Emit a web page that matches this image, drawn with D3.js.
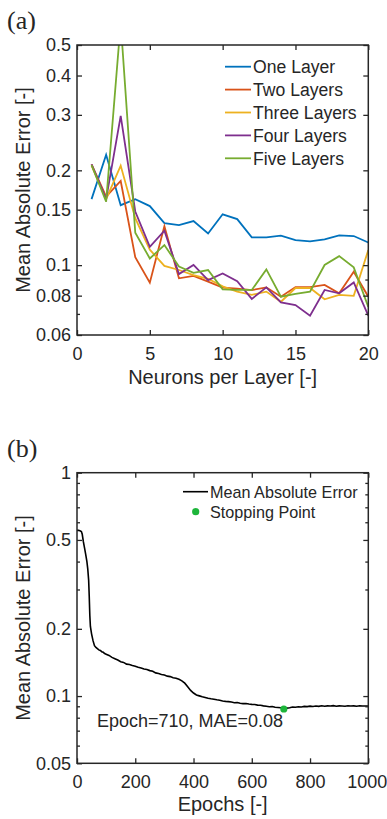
<!DOCTYPE html>
<html>
<head>
<meta charset="utf-8">
<script src="https://cdn.jsdelivr.net/npm/d3@7"></script>
<style>
  html, body { margin: 0; padding: 0; background: #fff; }
  svg { display: block; }
  text { font-family: "Liberation Sans", Arial, Helvetica, sans-serif; fill: #262626; }
</style>
</head>
<body>
<svg id="chart" width="387" height="819"></svg>
<script>
// ---------- Data: panel (a) ----------
const neurons = [1,2,3,4,5,6,7,8,9,10,11,12,13,14,15,16,17,18,19,20];
const seriesNames = ["One Layer","Two Layers","Three Layers","Four Layers","Five Layers"];
const seriesColors = ["#0072BD","#D95319","#EDB120","#7E2F8E","#77AC30"];
const oneLayer   = [0.162,0.224,0.155,0.162,0.154,0.136,0.134,0.138,0.126,0.145,0.140,0.1225,0.1225,0.124,0.120,0.119,0.1207,0.1243,0.1237,0.118];
const twoLayers  = [0.209,0.165,0.185,0.106,0.088,0.133,0.0908,0.0924,0.0886,0.0848,0.0842,0.0833,0.085,0.0794,0.0852,0.0852,0.0865,0.0814,0.0953,0.0794];
const threeLayers= [0.207,0.162,0.207,0.141,0.112,0.0994,0.0965,0.093,0.0905,0.0856,0.0824,0.0805,0.0824,0.0765,0.0846,0.0846,0.0779,0.0805,0.0799,0.1117];
const fourLayers = [0.209,0.162,0.298,0.148,0.1144,0.1286,0.0937,0.1001,0.0896,0.0941,0.0889,0.0781,0.085,0.0762,0.0747,0.0691,0.0834,0.0814,0.0881,0.0691];
const fiveLayers = [0.208,0.159,0.59,0.1268,0.105,0.1158,0.099,0.0945,0.0965,0.0838,0.0834,0.0834,0.0969,0.0794,0.081,0.0824,0.1001,0.1068,0.0984,0.0737];
const seriesValues = [oneLayer, twoLayers, threeLayers, fourLayers, fiveLayers];
const aXTicks = [0,5,10,15,20];
const aYTicks = [0.06,0.08,0.1,0.15,0.2,0.3,0.4,0.5];
const aYTickLabels = ["0.06","0.08","0.1","0.15","0.2","0.3","0.4","0.5"];
const aYMinor = [0.07,0.09];

// ---------- Data: panel (b) ----------
const epochs = [0,5,10,15,18,22,26,30,34,37,40,42,44,46,50,55,60,65,70,75,80,85,90,95,100,110,120,130,140,150,160,170,180,190,200,210,220,230,240,250,260,270,280,290,300,310,320,330,340,350,360,370,380,390,400,410,420,430,440,450,460,470,480,490,500,510,520,530,540,550,560,570,580,590,600,610,620,630,640,650,660,670,680,690,700,710,720,730,740,750,760,770,780,790,800,810,820,830,840,850,860,870,880,890,900,910,920,930,940,950,960,970,980,990,1000];
const mae = [0.552,0.552,0.550,0.545,0.53,0.49,0.46,0.43,0.40,0.37,0.33,0.28,0.23,0.205,0.19,0.177,0.168,0.165,0.163,0.161,0.160,0.158,0.157,0.155,0.154,0.152,0.149,0.147,0.145,0.1425,0.1415,0.139,0.1385,0.137,0.136,0.1345,0.1335,0.1322,0.1315,0.130,0.1292,0.127,0.1262,0.125,0.1242,0.1228,0.1222,0.1208,0.1202,0.1188,0.117,0.1142,0.110,0.106,0.1032,0.1012,0.1002,0.0992,0.0985,0.0978,0.0972,0.0968,0.0962,0.0958,0.0951,0.0947,0.0944,0.094,0.0934,0.0936,0.0929,0.0925,0.0926,0.0921,0.0918,0.0916,0.0911,0.0909,0.0904,0.0901,0.0896,0.0898,0.0891,0.0889,0.0886,0.0876,0.0883,0.0887,0.0893,0.0891,0.0896,0.0894,0.0899,0.0897,0.0901,0.0898,0.0902,0.0899,0.0905,0.0901,0.0904,0.0902,0.0906,0.0901,0.0904,0.0903,0.0901,0.0905,0.0902,0.0904,0.0901,0.0905,0.0902,0.0903,0.0902];
const stopEpoch = [710];
const stopMAE = [0.0875];
const bXTicks = [0,200,400,600,800,1000];
const bYTicks = [0.05,0.1,0.2,0.5,1];
const bYTickLabels = ["0.05","0.1","0.2","0.5","1"];
const bYMinor = [0.06,0.07,0.08,0.09,0.3,0.4,0.6,0.7,0.8,0.9];

const svg = d3.select("#chart");
const AX = "#262626";

function panel(opts) {
  const {left, right, top, bottom, x, y, xTicks, yTicks, yLabels, yMinor, xLabel, yLabel, xLabelY} = opts;
  const g = svg.append("g");
  const w = right - left, h = bottom - top;

  // ticks (inward) on all four sides
  const majLen = 5, minLen = 3;
  const bottomAxis = d3.axisBottom(x).tickValues(xTicks).tickSizeInner(-majLen).tickSizeOuter(0).tickPadding(12).tickFormat(d3.format("d"));
  const topAxis = d3.axisTop(x).tickValues(xTicks).tickSizeInner(-majLen).tickSizeOuter(0).tickFormat("");
  const leftAxis = d3.axisLeft(y).tickValues(yTicks).tickSizeInner(-majLen).tickSizeOuter(0).tickPadding(6)
      .tickFormat((d,i) => yLabels[i]);
  const rightAxis = d3.axisRight(y).tickValues(yTicks).tickSizeInner(-majLen).tickSizeOuter(0).tickFormat("");
  const leftMinor = d3.axisLeft(y).tickValues(yMinor).tickSizeInner(-minLen).tickSizeOuter(0).tickFormat("");
  const rightMinor = d3.axisRight(y).tickValues(yMinor).tickSizeInner(-minLen).tickSizeOuter(0).tickFormat("");

  const axes = [
    [bottomAxis, `translate(0,${bottom})`, "bottom"],
    [topAxis, `translate(0,${top})`, "top"],
    [leftAxis, `translate(${left},0)`, "left"],
    [rightAxis, `translate(${right},0)`, "right"],
    [leftMinor, `translate(${left},0)`, "lm"],
    [rightMinor, `translate(${right},0)`, "rm"]
  ];
  axes.forEach(([ax, tr, kind]) => {
    const a = g.append("g").attr("transform", tr).call(ax);
    a.select(".domain").remove();
    a.selectAll("line").attr("stroke", AX).attr("stroke-width", 1.3);
    a.selectAll("text").attr("font-size", 18).attr("fill", AX)
      .attr("font-family", '"Liberation Sans", Arial, sans-serif');
    if (kind === "bottom") {
      // keep the widest last label inside the picture
      a.selectAll("text").filter(d => String(d).length >= 4).attr("dx", -1.5);
    }
  });

  // frame
  g.append("rect").attr("x", left).attr("y", top).attr("width", w).attr("height", h)
    .attr("fill", "none").attr("stroke", AX).attr("stroke-width", 1.5);

  // labels
  g.append("text").attr("x", (left + right) / 2).attr("y", xLabelY)
    .attr("text-anchor", "middle").attr("font-size", 20).text(xLabel);
  g.append("text").attr("transform", `translate(30,${(top + bottom) / 2}) rotate(-90)`)
    .attr("text-anchor", "middle").attr("font-size", 20).text(yLabel);
  return g;
}

// ---------- Panel (a) ----------
const aL = 77, aR = 368.3, aT = 45, aB = 335;
const xa = d3.scaleLinear().domain([0,20]).range([aL, aR]);
const ya = d3.scaleLog().domain([0.06,0.5]).range([aB, aT]);

svg.append("text").attr("x", 7).attr("y", 29).attr("font-size", 26)
  .style("font-family", '"Liberation Serif", "Times New Roman", serif').attr("fill", "#000").text("(a)");

svg.append("clipPath").attr("id", "clipA").append("rect")
  .attr("x", aL).attr("y", aT).attr("width", aR - aL).attr("height", aB - aT);

const lineA = d3.line().x((d,i) => xa(neurons[i])).y(d => ya(d));
const gA = svg.append("g").attr("clip-path", "url(#clipA)");
seriesValues.forEach((vals, k) => {
  gA.append("path").datum(vals).attr("d", lineA)
    .attr("fill", "none").attr("stroke", seriesColors[k]).attr("stroke-width", 1.8)
    .attr("stroke-linejoin", "miter");
});

panel({left: aL, right: aR, top: aT, bottom: aB, x: xa, y: ya, xTicks: aXTicks, yTicks: aYTicks,
  yLabels: aYTickLabels, yMinor: aYMinor, xLabel: "Neurons per Layer [-]", yLabel: "Mean Absolute Error [-]", xLabelY: 384});

// legend (a)
const legA = svg.append("g");
seriesNames.forEach((name, k) => {
  const ly = 66.7 + k * 22.9;
  legA.append("line").attr("x1", 225).attr("x2", 251).attr("y1", ly).attr("y2", ly)
    .attr("stroke", seriesColors[k]).attr("stroke-width", 1.8);
  legA.append("text").attr("x", 253).attr("y", ly + 6.2).attr("font-size", 17.6).attr("fill", "#000").text(name);
});

// ---------- Panel (b) ----------
const bL = 77, bR = 368.3, bT = 472.7, bB = 763.3;
const xb = d3.scaleLinear().domain([0,1000]).range([bL, bR]);
const yb = d3.scaleLog().domain([0.05,1]).range([bB, bT]);

svg.append("text").attr("x", 7).attr("y", 457).attr("font-size", 26)
  .style("font-family", '"Liberation Serif", "Times New Roman", serif').attr("fill", "#000").text("(b)");

const lineB = d3.line().x((d,i) => xb(epochs[i])).y(d => yb(d));
svg.append("path").datum(mae).attr("d", lineB)
  .attr("fill", "none").attr("stroke", "#000").attr("stroke-width", 1.6);

svg.selectAll("circle.stop").data(stopEpoch).enter().append("circle").attr("class", "stop")
  .attr("cx", d => xb(d)).attr("cy", (d,i) => yb(stopMAE[i])).attr("r", 3.6).attr("fill", "#1db53a");

panel({left: bL, right: bR, top: bT, bottom: bB, x: xb, y: yb, xTicks: bXTicks, yTicks: bYTicks,
  yLabels: bYTickLabels, yMinor: bYMinor, xLabel: "Epochs [-]", yLabel: "Mean Absolute Error [-]", xLabelY: 811});

svg.append("text").attr("x", 97).attr("y", 727).attr("font-size", 18).attr("fill", "#000")
  .text(`Epoch=${stopEpoch[0]}, MAE=0.08`);

// legend (b)
const legB = svg.append("g");
legB.append("line").attr("x1", 183).attr("x2", 208).attr("y1", 491.7).attr("y2", 491.7)
  .attr("stroke", "#000").attr("stroke-width", 1.6);
legB.append("text").attr("x", 210).attr("y", 497.5).attr("font-size", 16.2).attr("fill", "#000").text("Mean Absolute Error");
legB.append("circle").attr("cx", 195.7).attr("cy", 511.7).attr("r", 3.6).attr("fill", "#1db53a");
legB.append("text").attr("x", 210).attr("y", 517.5).attr("font-size", 16.2).attr("fill", "#000").text("Stopping Point");
</script>
</body>
</html>
